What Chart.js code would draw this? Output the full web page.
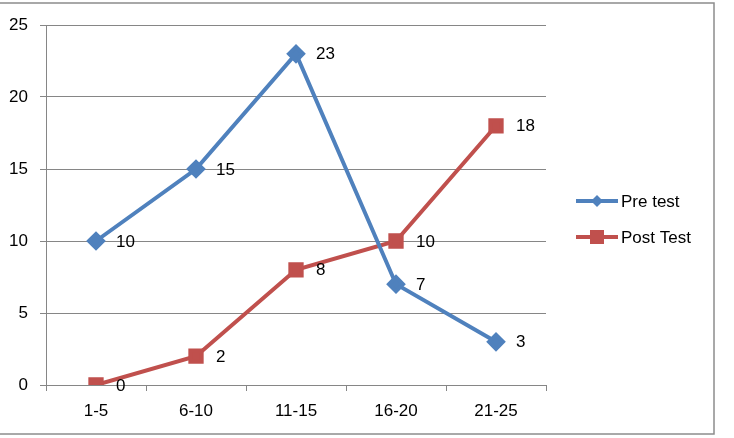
<!DOCTYPE html>
<html>
<head>
<meta charset="utf-8">
<script src="https://cdn.jsdelivr.net/npm/chart.js@4"></script>
<style>
  html, body { margin: 0; padding: 0; background: #fff; }
  #wrap { width: 734px; height: 438px; position: relative; }
</style>
</head>
<body>
<div id="wrap"><canvas id="chart"></canvas></div>
<script>
const categories = ['1-5', '6-10', '11-15', '16-20', '21-25'];
const preTest = [10, 15, 23, 7, 3];
const postTest = [0, 2, 8, 10, 18];
const seriesNames = ['Pre test', 'Post Test'];

const FONT = "'Liberation Sans', Arial, sans-serif";
const BLUE = '#4F81BD';
const RED = '#C0504D';

// value labels to the right of every point
const valueLabels = {
    id: 'valueLabels',
    afterDatasetsDraw(chart) {
        const ctx = chart.ctx;
        ctx.save();
        ctx.font = '17px ' + FONT;
        ctx.fillStyle = '#000';
        ctx.textAlign = 'left';
        ctx.textBaseline = 'middle';
        chart.data.datasets.forEach((ds, i) => {
            chart.getDatasetMeta(i).data.forEach((pt, j) => {
                ctx.fillText(String(ds.data[j]), pt.x + 20, pt.y + 1);
            });
        });
        ctx.restore();
    }
};

// legend with line + marker, and outer frame
const sideLegend = {
    id: 'sideLegend',
    afterDraw(chart) {
        const ctx = chart.ctx;
        const area = chart.chartArea;
        ctx.save();
        ctx.strokeStyle = '#8c8c8c';
        ctx.lineWidth = 1.5;
        ctx.strokeRect(-5, 3, 719, 431);

        const midY = (area.top + area.bottom) / 2;
        const rows = [midY - 4, midY + 32];
        chart.data.datasets.forEach((ds, i) => {
            const y = rows[i];
            const x0 = area.right + 30;
            ctx.strokeStyle = ds.borderColor;
            ctx.lineWidth = 4;
            ctx.beginPath();
            ctx.moveTo(x0, y);
            ctx.lineTo(x0 + 42, y);
            ctx.stroke();
            ctx.fillStyle = ds.backgroundColor;
            if (i === 0) {
                ctx.beginPath();
                ctx.moveTo(x0 + 21, y - 6);
                ctx.lineTo(x0 + 27, y);
                ctx.lineTo(x0 + 21, y + 6);
                ctx.lineTo(x0 + 15, y);
                ctx.closePath();
                ctx.fill();
            } else {
                ctx.fillRect(x0 + 14, y - 7, 14, 14);
            }
            ctx.fillStyle = '#000';
            ctx.font = '17px ' + FONT;
            ctx.textAlign = 'left';
            ctx.textBaseline = 'middle';
            ctx.fillText(seriesNames[i], x0 + 45, y + 1);
        });
        ctx.restore();
    }
};

new Chart(document.getElementById('chart'), {
    type: 'line',
    data: {
        labels: categories,
        datasets: [
            { label: seriesNames[0], data: preTest, borderColor: BLUE, backgroundColor: BLUE,
              borderWidth: 4, pointStyle: 'rectRot', pointRadius: 7, pointHoverRadius: 7, tension: 0 },
            { label: seriesNames[1], data: postTest, borderColor: RED, backgroundColor: RED,
              borderWidth: 4, pointStyle: 'rect', pointRadius: 8, pointHoverRadius: 8, tension: 0 }
        ]
    },
    options: {
        responsive: true,
        maintainAspectRatio: false,
        animation: false,
        events: [],
        layout: { padding: { left: 0, top: 25, right: 188, bottom: 0 } },
        plugins: { legend: { display: false }, tooltip: { enabled: false } },
        scales: {
            x: {
                offset: true,
                grid: { offset: true, drawOnChartArea: false, drawTicks: true, tickLength: 6, color: '#868686' },
                border: { color: '#868686', width: 1 },
                ticks: { color: '#000', font: { size: 17, family: FONT }, padding: 10, maxRotation: 0 },
                afterFit(s) { s.height = 53; }
            },
            y: {
                min: 0, max: 25,
                grid: { color: '#868686', tickLength: 6 },
                border: { color: '#868686', width: 1 },
                ticks: { stepSize: 5, color: '#000', font: { size: 17, family: FONT }, padding: 12 },
                afterFit(s) { s.width = 46; }
            }
        }
    },
    plugins: [valueLabels, sideLegend]
});
</script>
</body>
</html>
